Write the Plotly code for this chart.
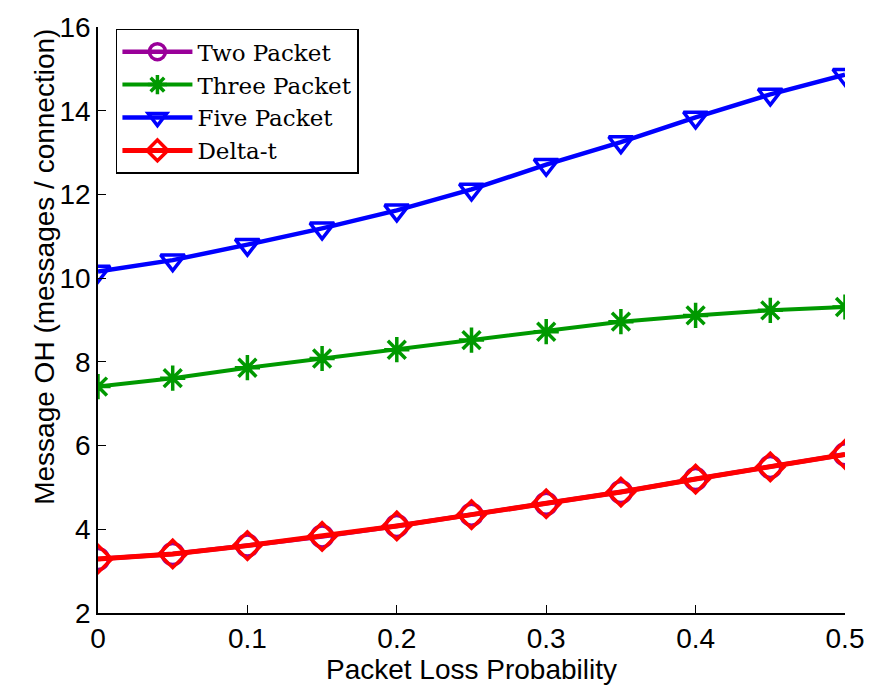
import plotly.graph_objects as go

loss_prob = [0, 0.05, 0.1, 0.15, 0.2, 0.25, 0.3, 0.35, 0.4, 0.45, 0.5]
two_packet = [3.29, 3.41, 3.61, 3.83, 4.08, 4.35, 4.61, 4.89, 5.20, 5.49, 5.79]
three_packet = [7.41, 7.61, 7.86, 8.08, 8.29, 8.52, 8.72, 8.96, 9.11, 9.23, 9.31]
five_packet = [10.16, 10.43, 10.80, 11.19, 11.62, 12.12, 12.71, 13.25, 13.84, 14.39, 14.86]
delta_t = [3.29, 3.41, 3.61, 3.83, 4.08, 4.35, 4.61, 4.89, 5.20, 5.49, 5.79]

x_ticks = [0, 0.1, 0.2, 0.3, 0.4, 0.5]
x_ticklabels = ["0", "0.1", "0.2", "0.3", "0.4", "0.5"]
y_ticks = [2, 4, 6, 8, 10, 12, 14, 16]

series = [
    ("Two Packet", two_packet, "#990099", "circle-open", 4.5),
    ("Three Packet", three_packet, "#009900", "asterisk-open", 4),
    ("Five Packet", five_packet, "#0000FF", "triangle-down-open", 4.5),
    ("Delta-t", delta_t, "#FF0000", "diamond-open", 5),
]

fig = go.Figure()
for name, vals, color, sym, lw in series:
    fig.add_trace(go.Scatter(
        x=loss_prob, y=vals, name=name, mode="lines+markers",
        line=dict(color=color, width=lw),
        marker=dict(symbol=sym, size=21, color=color, line=dict(color=color, width=3.5)),
    ))

axis_common = dict(
    showline=True, linecolor="black", linewidth=1.5, mirror=False,
    ticks="inside", ticklen=8, tickwidth=1.2, tickcolor="black",
    showgrid=False, zeroline=False,
    tickfont=dict(family="Liberation Sans, Arial", size=28, color="black"),
)

fig.update_layout(
    width=876, height=688,
    margin=dict(l=98, r=25, t=18, b=75),
    paper_bgcolor="white", plot_bgcolor="white",
    xaxis=dict(range=[0, 0.5], tickvals=x_ticks, ticktext=x_ticklabels,
               title=dict(text="Packet Loss Probability", standoff=0,
                          font=dict(family="Liberation Sans, Arial", size=28, color="black")),
               **axis_common),
    yaxis=dict(range=[2, 16], tickvals=y_ticks, **axis_common),
    legend=dict(
        x=0.024, y=0.997, xanchor="left", yanchor="top",
        bordercolor="black", borderwidth=1.5, bgcolor="white",
        font=dict(family="DejaVu Serif, Liberation Serif", size=23, color="black"),
        tracegroupgap=0, itemwidth=70,
    ),
    showlegend=True,
)

fig.add_annotation(
    text="Message OH (messages / connection)", textangle=-90,
    xref="paper", yref="paper", x=-0.095, y=0.59,
    showarrow=False, font=dict(family="Liberation Sans, Arial", size=28, color="black"),
)

fig.write_html("out.html")
